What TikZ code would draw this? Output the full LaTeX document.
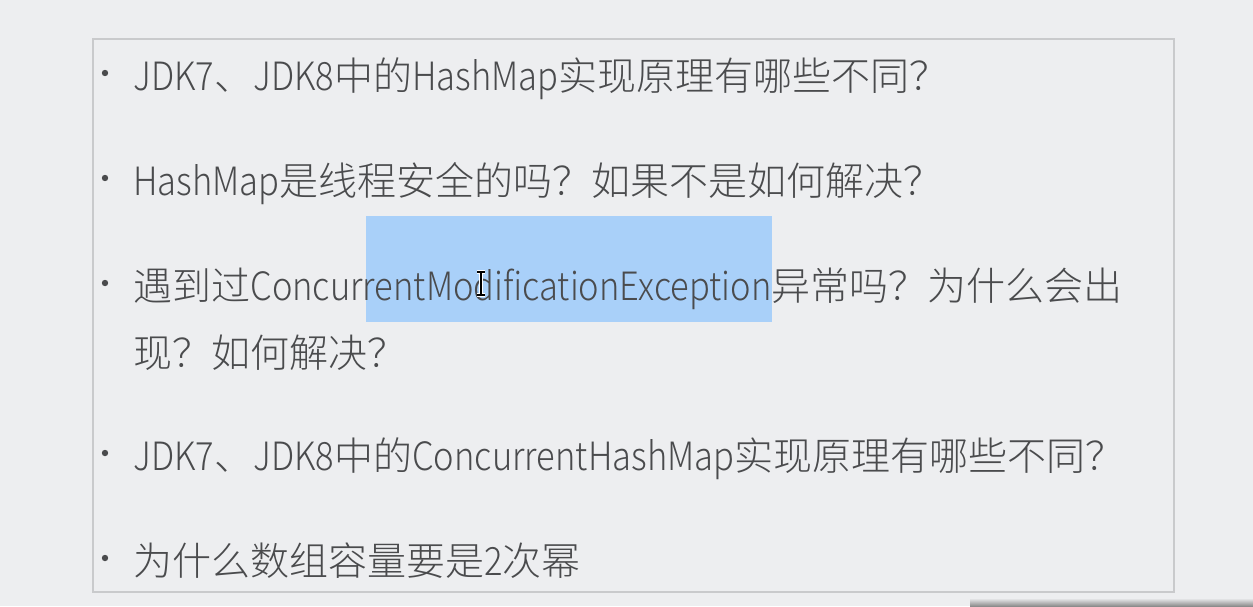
\documentclass[tikz,border=0pt]{standalone}
\usepackage{fontspec}
\setmainfont{Noto Sans CJK SC Light}
\newfontfamily\latfont[FakeStretch=0.885]{Noto Sans CJK SC Light}
\newcommand\en[1]{{\latfont #1}}
\definecolor{slidebg}{HTML}{EDEEF0}
\definecolor{framegray}{HTML}{C9CACC}
\definecolor{textgray}{HTML}{4A4B4D}
\definecolor{selblue}{HTML}{A9D0F9}
\begin{document}
\begin{tikzpicture}[x=0.5pt,y=-0.5pt,
    line/.style={anchor=base west, inner sep=0pt, text=textgray,
      font=\fontsize{19.5}{19.5}\selectfont},
    dot/.style={circle, fill=textgray, inner sep=0pt, minimum size=3.2pt}]
    \fill[slidebg] (0,0) rectangle (1253,606);
    \shade[top color=slidebg, bottom color=black!45, draw=none] (970,598) rectangle (1253,606);
    \draw[framegray, line width=0.6pt] (93,39) rectangle (1174,592);
    \fill[selblue] (366,216) rectangle (772,322); %SELEZIONE
    \foreach \y [count=\i] in {73,178,283,453,558}
      \node[dot] (b\i) at (105,\y) {};
    \node[line] (q1) at (133,90) {\en{JDK7}、\en{JDK8}中的\en{HashMap}实现原理有哪些不同？};
    \node[line] (q2) at (133,195) {\en{HashMap}是线程安全的吗？如果不是如何解决？};
    \node[line] (q3) at (133,300) {遇到过\en{ConcurrentModificationException}异常吗？为什么会出};
    \node[line] (q3b) at (133,367) {现？如何解决？};
    \node[line] (q4) at (133,470) {\en{JDK7}、\en{JDK8}中的\en{ConcurrentHashMap}实现原理有哪些不同？};
    \node[line] (q5) at (133,575) {为什么数组容量要是\en{2}次幂};
    \foreach \c/\w in {white/2.2pt, black/0.7pt} %CURSORE
      \draw[\c, line width=\w] (477,272) -- (485,272) (481,272) -- (481,295) (477,295) -- (485,295);
\end{tikzpicture}
\end{document}
